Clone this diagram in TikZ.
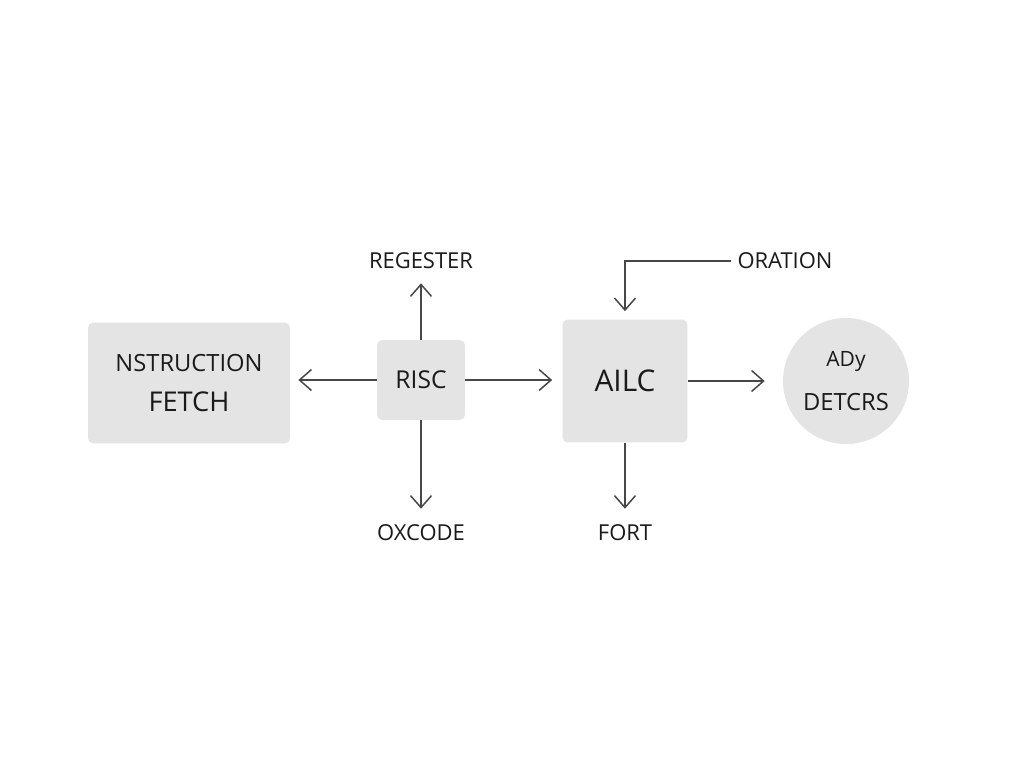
\documentclass[tikz,border=0pt]{standalone}
\usepackage{fontspec}
\setmainfont{Open Sans}
\usepackage{xcolor}
\usetikzlibrary{positioning,arrows.meta,calc}
\definecolor{boxfill}{HTML}{E4E4E4}
\definecolor{ink}{HTML}{1A1A1A}
\definecolor{wire}{HTML}{474747}

\begin{document}
\begin{tikzpicture}[x=0.02cm,y=-0.02cm,
  unit/.style={fill=boxfill,rounded corners=3pt,text=ink,align=center,inner sep=0pt},
  disc/.style={circle,fill=boxfill,text=ink,align=center,minimum size=2.52cm,inner sep=0pt},
  tag/.style={text=ink,font=\fontsize{12.5}{15}\selectfont},
  arr/.style={-{Straight Barb[length=2.4mm,width=4.2mm]},line width=0.85pt,draw=wire}]
  \fill[white] (0,0) rectangle (1024,768);
  \useasboundingbox (0,0) rectangle (1024,768);
  % blocks
  \node[unit,minimum width=4.04cm,minimum height=2.42cm] (fetch) at (189,383)
    {\fontsize{13.5}{16}\selectfont NSTRUCTION\\[11pt]\fontsize{15.5}{18}\selectfont FETCH};
  \node[unit,minimum width=1.76cm,minimum height=1.6cm,font=\fontsize{14}{17}\selectfont] (risc) at (421,380) {RISC};
  \node[unit,minimum width=2.5cm,minimum height=2.46cm,font=\fontsize{17}{20}\selectfont] (ailc) at (625,381) {AILC};
  \node[disc] (det) at (846,381)
    {\fontsize{12}{15}\selectfont ADy\\[11pt]\fontsize{13.5}{16}\selectfont DETCRS};
  % labels
  \node[tag] (reg) at (421,261) {REGESTER};
  \node[tag] (oxc) at (421,533) {OXCODE};
  \node[tag] (ora) at (785,261) {ORATION};
  \node[tag] (fort) at (625,533) {FORT};
  % connectors
  \draw[arr,shorten >=0.16cm] (risc.west) -- (risc.west -| fetch.east);
  \draw[arr,shorten >=0.2cm] (risc.east) -- (risc.east -| ailc.west);
  \draw[arr,shorten >=0.16cm] (risc) -- (reg);
  \draw[arr,shorten >=0.2cm] (risc) -- (oxc);
  \draw[arr,shorten >=0.16cm] (ora.west) -| (ailc.north);
  \draw[arr,shorten >=0.2cm] (ailc) -- (fort);
  \draw[arr,shorten >=0.36cm] (ailc) -- (det);
\end{tikzpicture}
\end{document}
